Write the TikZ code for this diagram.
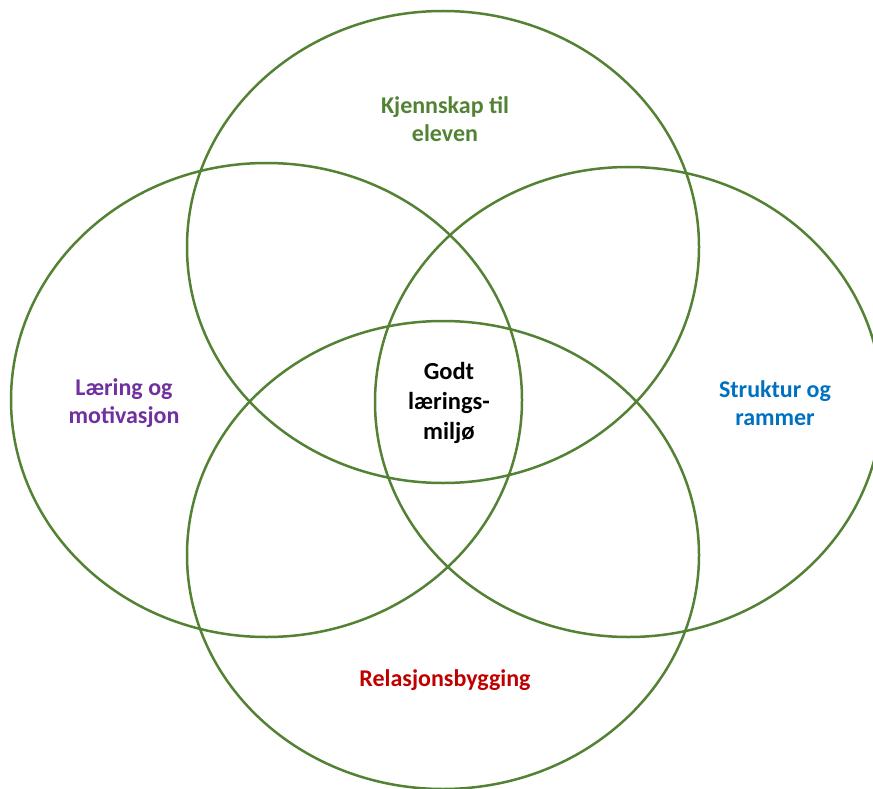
\documentclass[tikz,border=0pt]{standalone}
\usepackage{fontspec}
\setmainfont{Carlito}
\definecolor{ringgreen}{HTML}{548235}
\definecolor{lblpurple}{HTML}{7030A0}
\definecolor{lblblue}{HTML}{0070C0}
\definecolor{lblred}{HTML}{C00000}
\begin{document}
\begin{tikzpicture}[x=1pt,y=-1pt,
  ring/.style={draw=ringgreen,line width=2.5pt},
  lbl/.style={font=\fontsize{24}{28}\selectfont\bfseries,align=center,inner sep=0pt}]
\useasboundingbox (0,0) rectangle (873,789);
\clip (0,0) rectangle (873,789);
\draw[ring] (443,247) ellipse [x radius=256,y radius=236];
\draw[ring] (266.5,400) ellipse [x radius=255.5,y radius=237];
\draw[ring] (628.5,402) ellipse [x radius=253.5,y radius=235];
\draw[ring] (443,555) ellipse [x radius=256,y radius=234];
\node[lbl,text=ringgreen] (top) at (445,119) {Kjennskap til\\eleven};
\node[lbl,text=lblpurple] (left) at (124,403) {Læring og\\motivasjon};
\node[lbl,text=lblblue] (right) at (775,403) {Struktur og\\rammer};
\node[lbl,text=black,font=\fontsize{24.5}{30}\selectfont\bfseries] (mid) at (449,403) {Godt\\lærings-\\miljø};
\node[lbl,text=lblred] (bottom) at (445,680) {Relasjonsbygging};
\end{tikzpicture}
\end{document}
